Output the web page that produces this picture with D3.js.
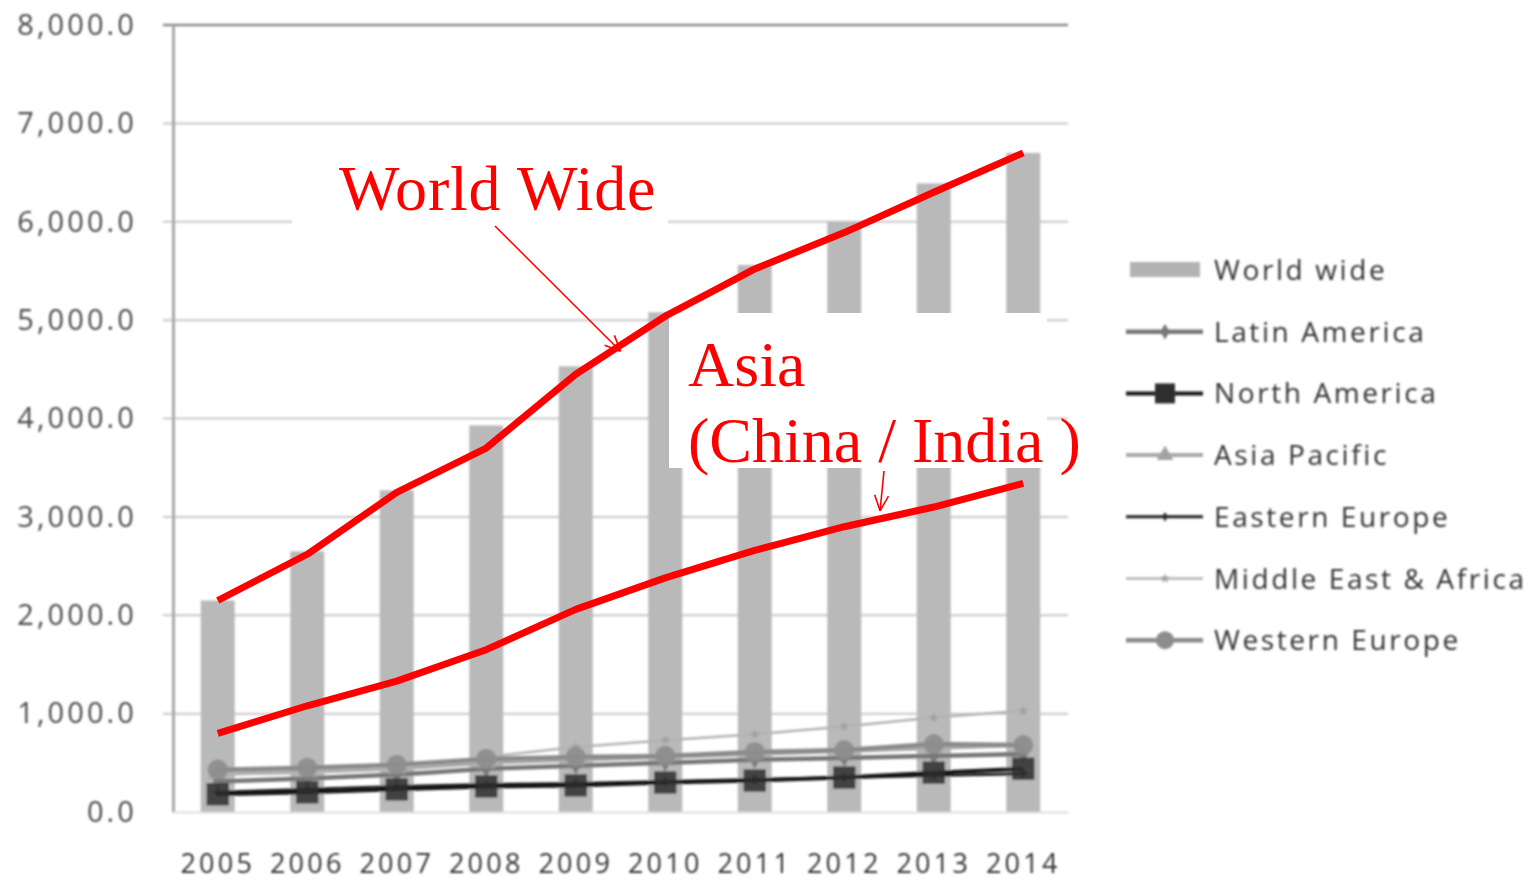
<!DOCTYPE html>
<html>
<head>
<meta charset="utf-8">
<script src="https://cdn.jsdelivr.net/npm/d3@7/dist/d3.min.js"></script>
<style>
  html, body { margin: 0; padding: 0; background: #fff; }
  svg { display: block; }
</style>
</head>
<body>
<svg id="chart" width="1532" height="881"></svg>
<script>
// ---- data ----
const years = ["2005","2006","2007","2008","2009","2010","2011","2012","2013","2014"];
const yTicks = [0, 1000, 2000, 3000, 4000, 5000, 6000, 7000, 8000];

const worldWide          = [2150, 2650, 3270, 3930, 4530, 5080, 5560, 6000, 6390, 6700];
const latinAmerica       = [310, 340, 380, 440, 470, 500, 530, 550, 570, 590];
const northAmerica       = [180, 200, 230, 260, 270, 300, 320, 350, 400, 440];
const asiaPacific        = [390, 410, 440, 500, 530, 560, 590, 620, 650, 680];
const easternEurope      = [200, 230, 260, 280, 290, 310, 330, 350, 370, 390];
const middleEastAfrica   = [380, 400, 440, 560, 660, 730, 790, 870, 960, 1030];
const westernEurope      = [430, 450, 480, 540, 560, 570, 610, 630, 690, 680];

// highlighted growth trends written over the chart
const worldTrend = [2150, 2620, 3250, 3700, 4450, 5040, 5520, 5890, 6300, 6700];
const asiaTrend  = [800, 1080, 1330, 1650, 2060, 2380, 2660, 2900, 3100, 3340];

const legendNames = ["World wide","Latin America","North America","Asia Pacific",
                     "Eastern Europe","Middle East & Africa","Western Europe"];

// ---- layout ----
const svg = d3.select("#chart");
const plotLeft = 173, plotRight = 1068, plotTop = 25, plotBottom = 812;

const x = d3.scaleBand().domain(years).range([plotLeft, plotRight])
  .paddingInner(0.62).paddingOuter(0.31);
const y = d3.scaleLinear().domain([0, 8000]).range([plotBottom, plotTop]);
const cx = d => x(d) + x.bandwidth() / 2;

// soft look of the base chart
const defs = svg.append("defs");
defs.append("filter").attr("id", "soft")
  .append("feGaussianBlur").attr("stdDeviation", 0.8);

const base = svg.append("g").attr("filter", "url(#soft)");

// gridlines
base.append("g").selectAll("line").data(yTicks.filter(t => t > 0)).join("line")
  .attr("x1", plotLeft - 10).attr("x2", plotRight)
  .attr("y1", d => y(d)).attr("y2", d => y(d))
  .attr("stroke", d => d === 8000 ? "#8a8a8a" : "#c9c9c9")
  .attr("stroke-width", d => d === 8000 ? 2.5 : 2);

// bars
base.append("g").selectAll("rect").data(years).join("rect")
  .attr("x", d => x(d)).attr("width", x.bandwidth())
  .attr("y", (d, i) => y(worldWide[i]))
  .attr("height", (d, i) => y(0) - y(worldWide[i]))
  .attr("fill", "#b9b9b9");

// axes
const yAxis = d3.axisLeft(y).tickValues(yTicks).tickFormat(d3.format(",.1f"))
  .tickSize(0).tickPadding(36);
const yg = base.append("g").attr("transform", `translate(${plotLeft},0)`).call(yAxis);
yg.select(".domain").attr("stroke", "#a8a8a8").attr("stroke-width", 3);
yg.selectAll("text").attr("font-family", "Open Sans").attr("font-size", 29)
  .attr("letter-spacing", 3.1).attr("fill", "#4a4a4a");

const xAxis = d3.axisBottom(x).tickSize(0).tickPadding(0);
const xg = base.append("g").attr("transform", `translate(0,${plotBottom})`).call(xAxis);
xg.select(".domain").attr("stroke", "#dedede").attr("stroke-width", 2);
xg.selectAll("text").attr("font-family", "Open Sans").attr("font-size", 27)
  .attr("y", 61).attr("dy", 0)
  .attr("letter-spacing", 3.2).attr("fill", "#333");

// series styles
const series = [
  { name: "Latin America",        values: latinAmerica,     color: "#777777", width: 4.5, marker: "diamond",  size: 90,  mcolor: "#777777" },
  { name: "Asia Pacific",         values: asiaPacific,      color: "#a9a9a9", width: 4,   marker: "triangle", size: 150, mcolor: "#a3a3a3" },
  { name: "Middle East & Africa", values: middleEastAfrica, color: "#b3b3b3", width: 2.5, marker: "star",     size: 40,  mcolor: "#a0a0a0" },
  { name: "Western Europe",       values: westernEurope,    color: "#8a8a8a", width: 4.5, marker: "circle",   size: 320, mcolor: "#8d8d8d" },
  { name: "Eastern Europe",       values: easternEurope,    color: "#202020", width: 3,   marker: "cross",    size: 40,  mcolor: "#202020" },
  { name: "North America",        values: northAmerica,     color: "#151515", width: 4,   marker: "square",   size: 500, mcolor: "#2e2e2e" }
];
const symbolType = {
  diamond: d3.symbolDiamond, triangle: d3.symbolTriangle, star: d3.symbolStar,
  circle: d3.symbolCircle, cross: d3.symbolCross, square: d3.symbolSquare
};

const lineGen = d3.line().x((d, i) => cx(years[i])).y(d => y(d));
series.forEach(s => {
  const g = base.append("g");
  g.append("path").datum(s.values).attr("d", lineGen)
    .attr("fill", "none").attr("stroke", s.color).attr("stroke-width", s.width);
  g.selectAll("path.m").data(s.values).join("path").attr("class", "m")
    .attr("transform", (d, i) => `translate(${cx(years[i])},${y(d)})`)
    .attr("d", d3.symbol().type(symbolType[s.marker]).size(s.size))
    .attr("fill", s.mcolor).attr("opacity", s.marker === "square" ? 0.85 : 0.9);
});

// legend
const legend = base.append("g").attr("transform", "translate(1126,270)");
const legendStep = 61.7;
const legendStyle = {
  "World wide":           null,
  "Latin America":        series[0],
  "North America":        series[5],
  "Asia Pacific":         series[1],
  "Eastern Europe":       series[4],
  "Middle East & Africa": series[2],
  "Western Europe":       series[3]
};
legendNames.forEach((name, i) => {
  const g = legend.append("g").attr("transform", `translate(0,${i * legendStep})`);
  const s = legendStyle[name];
  if (!s) {
    g.append("rect").attr("x", 4).attr("y", -8).attr("width", 70).attr("height", 15)
      .attr("fill", "#b3b3b3");
  } else {
    g.append("line").attr("x1", 0).attr("x2", 77).attr("y1", 0).attr("y2", 0)
      .attr("stroke", s.color).attr("stroke-width", s.width);
    g.append("path").attr("transform", "translate(39,0)")
      .attr("d", d3.symbol().type(symbolType[s.marker]).size(s.size * 0.8))
      .attr("fill", s.mcolor);
  }
  g.append("text").attr("x", 88).attr("y", 10).text(name)
    .attr("font-family", "Open Sans").attr("font-size", 28)
    .attr("letter-spacing", 2.6).attr("fill", "#303030");
});

// ---- annotations ----
const notes = svg.append("g");
// white boxes behind the annotation text
notes.append("rect").attr("x", 292).attr("y", 142).attr("width", 376).attr("height", 86).attr("fill", "#fff");
notes.append("rect").attr("x", 669).attr("y", 313).attr("width", 378).attr("height", 155).attr("fill", "#fff");

const red = "#ff0000";
const trendLine = d3.line().x((d, i) => cx(years[i])).y(d => y(d));
[worldTrend, asiaTrend].forEach(vals => {
  notes.append("path").datum(vals).attr("d", trendLine)
    .attr("fill", "none").attr("stroke", red).attr("stroke-width", 7)
    .attr("stroke-linejoin", "round");
});

const serif = "Liberation Serif, Times New Roman, serif";
notes.append("text").attr("x", 339).attr("y", 210).text("World Wide")
  .attr("font-family", serif).attr("font-size", 64).attr("letter-spacing", 0.8).attr("fill", red);
notes.append("text").attr("x", 688).attr("y", 386).text("Asia")
  .attr("font-family", serif).attr("font-size", 64).attr("fill", red);
notes.append("text").attr("x", 688).attr("y", 462).text("(China / India )")
  .attr("font-family", serif).attr("font-size", 64).attr("fill", red);

// pointer arrows onto the trend lines
function arrow(x1, y1, x2, y2) {
  notes.append("line").attr("x1", x1).attr("y1", y1).attr("x2", x2).attr("y2", y2)
    .attr("stroke", red).attr("stroke-width", 1.6);
  const a = Math.atan2(y2 - y1, x2 - x1), len = 17, spread = 0.42;
  [a + Math.PI - spread, a + Math.PI + spread].forEach(t => {
    notes.append("line").attr("x1", x2).attr("y1", y2)
      .attr("x2", x2 + len * Math.cos(t)).attr("y2", y2 + len * Math.sin(t))
      .attr("stroke", red).attr("stroke-width", 1.6);
  });
}
const wx = (cx("2009") + cx("2010")) / 2;
const wy = y((worldTrend[4] + worldTrend[5]) / 2) + 6;
arrow(495, 226, wx, wy);
const ax = cx("2012") + 0.4 * (cx("2013") - cx("2012"));
const ay = y(asiaTrend[7] + 0.4 * (asiaTrend[8] - asiaTrend[7])) - 8;
arrow(884, 471, ax, ay);
</script>
</body>
</html>
